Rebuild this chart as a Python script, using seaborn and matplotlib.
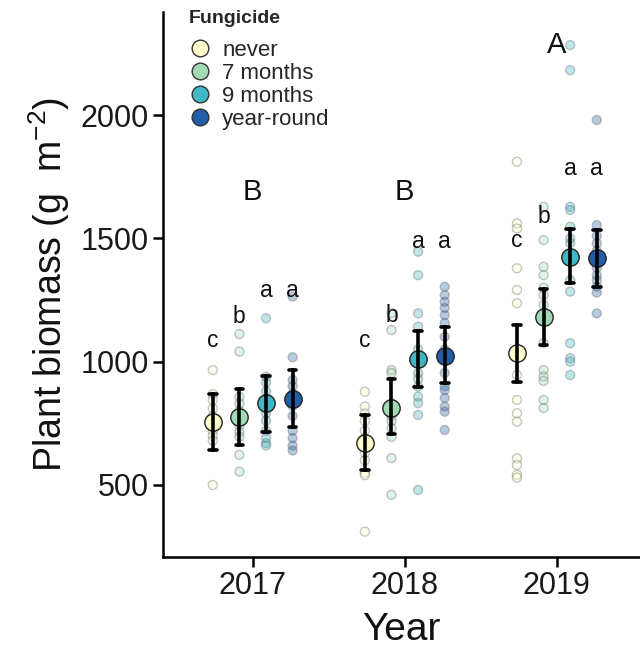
import numpy as np
import pandas as pd
import matplotlib
matplotlib.use("Agg")
import matplotlib.pyplot as plt
from matplotlib.lines import Line2D
import seaborn as sns

# ---------------- data ----------------
years = [2017, 2018, 2019]
fungicide = ["never", "7 months", "9 months", "year-round"]
palette = ["#ffffcc", "#a1dab4", "#41b6c4", "#225ea8"]

raw_2017_never = [966, 868, 845, 810, 780, 750, 720, 700, 680, 500]
raw_2017_7m = [1112, 1041, 858, 830, 800, 780, 760, 740, 715, 696, 622, 554]
raw_2017_9m = [1176, 939, 915, 880, 850, 820, 790, 760, 720, 690, 670, 660]
raw_2017_yr = [1264, 1018, 926, 900, 870, 850, 820, 780, 720, 690, 660, 640]

raw_2018_never = [878, 818, 790, 760, 720, 690, 660, 630, 600, 549, 540, 311]
raw_2018_7m = [1197, 1128, 966, 954, 832, 800, 780, 760, 730, 695, 609, 460]
raw_2018_9m = [1446, 1351, 1196, 1142, 1050, 1000, 953, 930, 899, 858, 832, 784, 480]
raw_2018_yr = [1304, 1270, 1243, 1218, 1189, 1157, 1101, 1050, 954, 900, 885, 853, 818, 797, 723]

raw_2019_never = [1811, 1561, 1540, 1379, 1291, 1237, 946, 845, 791, 757, 608, 581, 541, 530]
raw_2019_7m = [1628, 1493, 1385, 1351, 1300, 1270, 1230, 1076, 966, 940, 922, 845, 812]
raw_2019_9m = [2284, 2182, 1628, 1615, 1547, 1500, 1481, 1331, 1284, 1075, 1014, 1000, 946]
raw_2019_yr = [1980, 1554, 1510, 1480, 1450, 1400, 1380, 1350, 1330, 1304, 1280, 1196]

# means and error-bar limits per fungicide level (2017, 2018, 2019)
mean_never = [755, 672, 1034]
mean_7m = [777, 812, 1182]
mean_9m = [831, 1010, 1426]
mean_yr = [848, 1024, 1419]
lo_never = [642, 560, 919]
lo_7m = [662, 705, 1068]
lo_9m = [716, 896, 1318]
lo_yr = [737, 912, 1304]
hi_never = [868, 784, 1149]
hi_7m = [889, 930, 1293]
hi_9m = [943, 1124, 1540]
hi_yr = [966, 1139, 1534]

group_letters = ["c", "b", "a", "a"]
letter_y_2017 = [1061, 1156, 1264, 1264]
letter_y_2018 = [1061, 1162, 1460, 1460]
letter_y_2019 = [1466, 1561, 1757, 1757]
year_letters = ["B", "B", "A"]
year_letter_y = [1655, 1655, 2250]

# ---------------- build tables ----------------
raw_lists = {
    (2017, "never"): raw_2017_never, (2017, "7 months"): raw_2017_7m,
    (2017, "9 months"): raw_2017_9m, (2017, "year-round"): raw_2017_yr,
    (2018, "never"): raw_2018_never, (2018, "7 months"): raw_2018_7m,
    (2018, "9 months"): raw_2018_9m, (2018, "year-round"): raw_2018_yr,
    (2019, "never"): raw_2019_never, (2019, "7 months"): raw_2019_7m,
    (2019, "9 months"): raw_2019_9m, (2019, "year-round"): raw_2019_yr,
}
raw = pd.DataFrame(
    [(y, f, v) for (y, f), vals in raw_lists.items() for v in vals],
    columns=["Year", "Fungicide", "Biomass"],
)

means = dict(zip(fungicide, [mean_never, mean_7m, mean_9m, mean_yr]))
los = dict(zip(fungicide, [lo_never, lo_7m, lo_9m, lo_yr]))
his = dict(zip(fungicide, [hi_never, hi_7m, hi_9m, hi_yr]))
summ_rows = []
for f in fungicide:
    for i, y in enumerate(years):
        for v in (los[f][i], means[f][i], his[f][i]):
            summ_rows.append((y, f, v))
summ = pd.DataFrame(summ_rows, columns=["Year", "Fungicide", "Biomass"])

DODGE = 0.525
offsets = dict(zip(fungicide, np.linspace(-DODGE / 2, DODGE / 2, len(fungicide))))
raw["xpos"] = raw["Year"] + raw["Fungicide"].map(offsets)

# ---------------- style ----------------
sns.set_style("ticks")
plt.rcParams["font.family"] = ["Liberation Sans", "DejaVu Sans"]
plt.rcParams["mathtext.fontset"] = "custom"
plt.rcParams["mathtext.rm"] = "Liberation Sans"
plt.rcParams["mathtext.it"] = "Liberation Sans:italic"
plt.rcParams["mathtext.bf"] = "Liberation Sans:bold"

fig = plt.figure(figsize=(6.4, 6.51), dpi=100)
ax = fig.add_axes([163 / 640, 1 - 557 / 651, 476 / 640, (557 - 12) / 651])

sns.scatterplot(
    data=raw, x="xpos", y="Biomass", hue="Fungicide", hue_order=fungicide,
    palette=palette, s=42, alpha=0.33, edgecolor="#555555", linewidth=1.0,
    legend=False, zorder=1, ax=ax,
)

sns.pointplot(
    data=summ, x="Year", y="Biomass", hue="Fungicide", hue_order=fungicide,
    palette=palette, native_scale=True, dodge=DODGE,
    estimator="median", errorbar=("pi", 100), capsize=0.05,
    markers="o", linestyles="none", markersize=12.5,
    markeredgecolor="#222222", markeredgewidth=1.0,
    err_kws={"color": "black", "linewidth": 2.6},
    legend=False, ax=ax,
)
for ln in ax.lines:
    ln.set_zorder(5)

# letters
letter_ys = [letter_y_2017, letter_y_2018, letter_y_2019]
for i, y in enumerate(years):
    for j, f in enumerate(fungicide):
        ax.text(y + offsets[f], letter_ys[i][j], group_letters[j],
                ha="center", va="baseline", fontsize=16.5, color="#111111")
    ax.text(y, year_letter_y[i], year_letters[i], ha="center", va="baseline",
            fontsize=21, color="#111111")

ax.set_xlim(2016.41, 2019.54)
ax.set_ylim(208, 2418)
ax.set_xticks(years)
ax.set_xticklabels([str(y) for y in years])
ax.set_yticks([500, 1000, 1500, 2000])
ax.set_xlabel("Year", fontsize=28, labelpad=8, color="#111111")
ax.set_ylabel(r"Plant biomass (g  m$^{-2}$)", fontsize=27, labelpad=6,
              color="#111111")
ax.tick_params(axis="both", labelsize=22, length=7, width=1.8, color="black",
               labelcolor="#1a1a1a", pad=3)
sns.despine(ax=ax)
for s in ("left", "bottom"):
    ax.spines[s].set_linewidth(1.8)
    ax.spines[s].set_color("black")

handles = [
    Line2D([], [], marker="o", linestyle="none", markersize=12,
           markerfacecolor=c, markeredgecolor="#333333", markeredgewidth=1.0)
    for c in palette
]
leg = ax.legend(
    handles, fungicide, title="Fungicide", loc="upper left",
    bbox_to_anchor=(189 / 640, 1 - 10 / 651), bbox_transform=fig.transFigure,
    frameon=False, fontsize=16, title_fontsize=14, handlelength=1.0,
    handletextpad=0.5, labelspacing=0.1, borderpad=0, borderaxespad=0,
)
leg.get_title().set_fontweight("bold")
leg._legend_box.align = "left"
leg._legend_box.sep = 9

fig.savefig("out.png", dpi=100)
